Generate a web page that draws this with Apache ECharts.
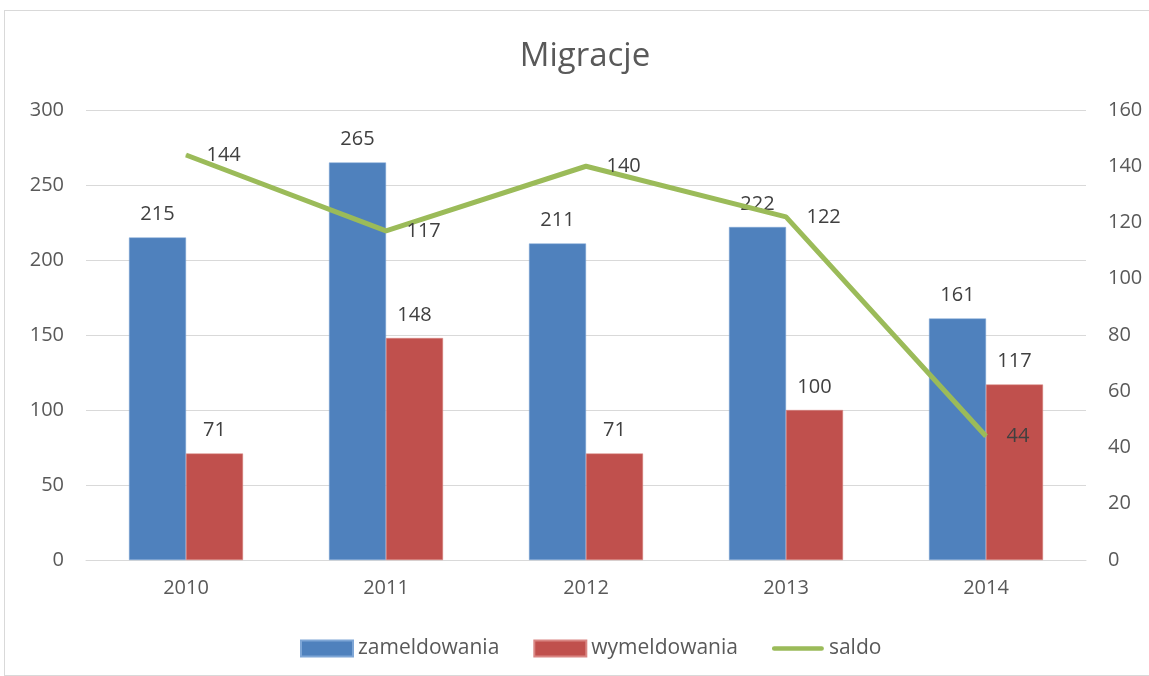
<!DOCTYPE html>
<html>
<head>
<meta charset="utf-8">
<script src="https://cdn.jsdelivr.net/npm/echarts@6/dist/echarts.min.js"></script>
<style>
  html, body { margin: 0; padding: 0; background: #fff; }
  #frame { position: absolute; left: 4px; top: 10px; width: 1150px; height: 666px; border: 1px solid #d9d9d9; box-sizing: border-box; }
  #chart { width: 1149px; height: 676px; }
</style>
</head>
<body>
<div id="frame"></div>
<div id="chart"></div>
<script>
// dane
var years = ["2010", "2011", "2012", "2013", "2014"];
var zameldowania = [215, 265, 211, 222, 161];
var wymeldowania = [71, 148, 71, 100, 117];
var saldo = [144, 117, 140, 122, 44];

var font = "Open Sans";
var chart = echarts.init(document.getElementById("chart"));

var labelStyle = {
  show: true,
  fontSize: 20,
  color: "#404040",
  fontFamily: font
};

option = {
  animation: false,
  title: {
    text: "Migracje",
    left: 580,
    textAlign: "center",
    top: 35,
    textStyle: { fontSize: 33, fontWeight: "normal", color: "#595959", fontFamily: font }
  },
  legend: {
    bottom: 12,
    left: 295,
    itemGap: 34,
    itemWidth: 52,
    itemHeight: 16,
    textStyle: { fontSize: 21, color: "#595959", fontFamily: font, padding: [0, 0, 0, 0] },
    data: [
      { name: "zameldowania", icon: "rect" },
      { name: "wymeldowania", icon: "rect" },
      { name: "saldo", icon: "path://M2.5,0 L53.5,0 A2.5,2.5 0 0 1 53.5,5 L2.5,5 A2.5,2.5 0 0 1 2.5,0 Z" }
    ]
  },
  grid: { left: 86, right: 63, top: 110, bottom: 116 },
  xAxis: {
    type: "category",
    data: years,
    axisLine: { lineStyle: { color: "#d9d9d9", width: 1 } },
    axisTick: { show: false },
    axisLabel: { fontSize: 20, color: "#595959", fontFamily: font, margin: 18 }
  },
  yAxis: [
    {
      type: "value",
      min: 0, max: 300, interval: 50,
      axisLabel: { fontSize: 20, color: "#595959", fontFamily: font, margin: 22 },
      splitLine: { lineStyle: { color: "#d9d9d9", width: 1 } },
      axisLine: { show: false }, axisTick: { show: false }
    },
    {
      type: "value",
      min: 0, max: 160, interval: 20,
      axisLabel: { fontSize: 20, color: "#595959", fontFamily: font, margin: 22 },
      splitLine: { show: false },
      axisLine: { show: false }, axisTick: { show: false }
    }
  ],
  series: [
    {
      name: "zameldowania",
      type: "bar",
      data: zameldowania,
      barWidth: 57,
      barGap: "0%",
      itemStyle: { color: "#4f81bd", borderColor: "#7ea6d6", borderWidth: 0.5 },
      label: Object.assign({ position: "top", distance: 13 }, labelStyle)
    },
    {
      name: "wymeldowania",
      type: "bar",
      data: wymeldowania,
      barWidth: 57,
      barGap: "0%",
      itemStyle: { color: "#c0504d", borderColor: "#d98683", borderWidth: 0.5 },
      label: Object.assign({ position: "top", distance: 13 }, labelStyle)
    },
    {
      name: "saldo",
      type: "line",
      yAxisIndex: 1,
      data: saldo,
      symbol: "circle",
      symbolSize: 1,
      showSymbol: true,
      lineStyle: { color: "#9bbb59", width: 5 },
      itemStyle: { color: "#9bbb59" },
      label: Object.assign({ position: "right", distance: 20 }, labelStyle),
      z: 5
    }
  ]
};

chart.setOption(option);
</script>
</body>
</html>
